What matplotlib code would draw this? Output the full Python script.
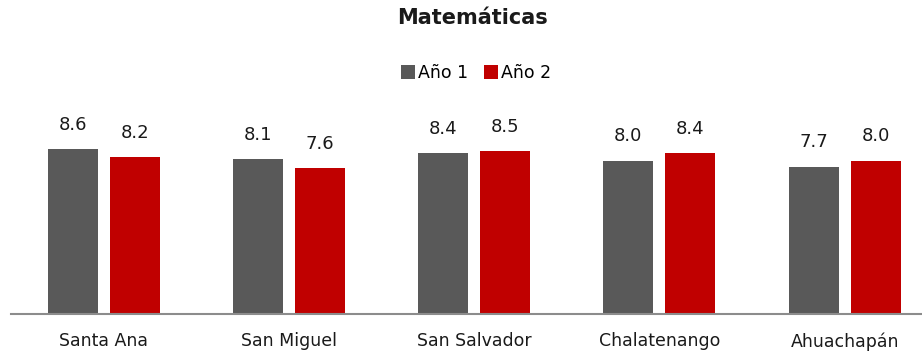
import numpy as np
import matplotlib.pyplot as plt

categories = ['Santa Ana', 'San Miguel', 'San Salvador', 'Chalatenango', 'Ahuachapán']
year1 = [8.6, 8.1, 8.4, 8.0, 7.7]
year2 = [8.2, 7.6, 8.5, 8.4, 8.0]
series_labels = ['Año 1', 'Año 2']
colors = ['#595959', '#C00000']

W, H, DPI = 922, 354, 100
fig = plt.figure(figsize=(W / DPI, H / DPI), dpi=DPI)

# axes placed in pixel terms: baseline at y=314, one category = 185 px
y_max = 11.0
px_per_unit = 19.15
top_px = 314 - y_max * px_per_unit
cat_px = 185.25
ax = fig.add_axes([11 / W, 40 / H, 5 * cat_px / W, (314 - top_px) / H])

x = np.arange(len(categories))
bw = 50 / cat_px
off = (50 + 12) / cat_px / 2
for vals, dx, col, lab in zip([year1, year2], [-off, off], colors, series_labels):
    bars = ax.bar(x + dx, vals, width=bw, color=col, label=lab, zorder=2)
    for b, v in zip(bars, vals):
        ax.text(b.get_x() + b.get_width() / 2, v + 0.8, f'{v:.1f}',
                ha='center', va='bottom', fontsize=13, color='#1a1a1a')

ax.set_xlim(-0.5, len(categories) - 0.5)
ax.set_ylim(0, y_max)
ax.set_yticks([])
ax.set_xticks(x)
ax.set_xticklabels(categories, fontsize=12.5, color='#1a1a1a')
ax.tick_params(axis='x', length=0, pad=13)
for s in ['top', 'right', 'left']:
    ax.spines[s].set_visible(False)
ax.spines['bottom'].set_color('#8c8c8c')
ax.spines['bottom'].set_linewidth(1.5)

fig.text(472 / W, 1 - 18 / H, 'Matemáticas', ha='center', va='center',
         fontsize=15, fontweight='bold', color='#1a1a1a')
fig.legend(loc='center', bbox_to_anchor=(476 / W, 1 - 73 / H), ncol=2,
           frameon=False, fontsize=12.5, handlelength=0.8, handleheight=0.8,
           handletextpad=0.2, columnspacing=0.9)

fig.savefig('out.png', dpi=DPI)
